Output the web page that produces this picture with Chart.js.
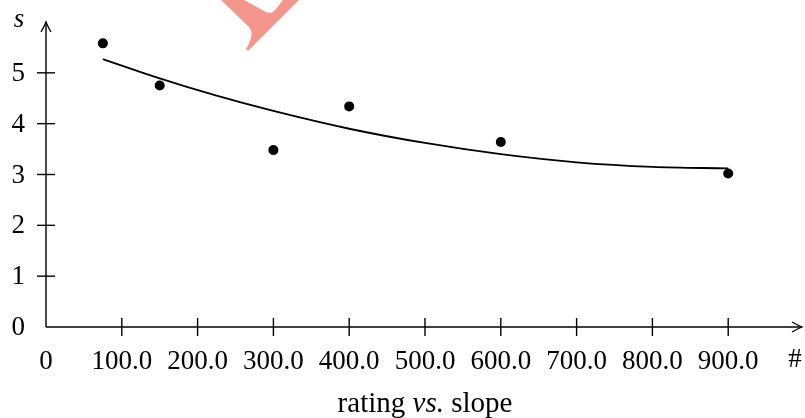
<!DOCTYPE html>
<html>
<head>
<meta charset="utf-8">
<script src="https://cdn.jsdelivr.net/npm/chart.js@4"></script>
<style>
html,body{margin:0;padding:0;background:#fff;}
#wrap{width:805px;height:418px;}
</style>
</head>
<body>
<div id="wrap"><canvas id="c" width="805" height="418"></canvas></div>
<script>
// Observed points
const pointX = [75, 150, 300, 400, 600, 900];
const pointY = [5.58, 4.75, 3.48, 4.34, 3.64, 3.02];
// Fitted trend curve
const curveX = [75, 150, 225, 300, 400, 500, 600, 700, 800, 900];
const curveY = [5.27, 4.89, 4.55, 4.25, 3.90, 3.62, 3.40, 3.24, 3.15, 3.12];
// Axis ticks
const xTickValues = [0, 100, 200, 300, 400, 500, 600, 700, 800, 900];
const xTickLabels = ['0', '100.0', '200.0', '300.0', '400.0', '500.0', '600.0', '700.0', '800.0', '900.0'];
const yTickValues = [0, 1, 2, 3, 4, 5];
const yTickLabels = ['0', '1', '2', '3', '4', '5'];
const xAxisName = '#';
const yAxisName = 's';
const titleParts = [['rating ', false], ['vs.', true], [' slope', false]];

const FONT = '"Liberation Serif", "Times New Roman", serif';

function arrowHead(ctx, tx, ty, dx, dy) {
  const L = 10, W = 5;
  const px = -dy, py = dx;
  ctx.beginPath();
  ctx.moveTo(tx - dx * L + px * W, ty - dy * L + py * W);
  ctx.quadraticCurveTo(tx - dx * 3 + px * 1, ty - dy * 3 + py * 1, tx, ty);
  ctx.quadraticCurveTo(tx - dx * 3 - px * 1, ty - dy * 3 - py * 1, tx - dx * L - px * W, ty - dy * L - py * W);
  ctx.stroke();
}

const axesPlugin = {
  id: 'texAxes',
  beforeDatasetsDraw(chart) {
    const ctx = chart.ctx;
    const xs = chart.scales.x, ys = chart.scales.y;
    const x0 = xs.getPixelForValue(0), y0 = ys.getPixelForValue(0);
    const xEnd = chart.chartArea.right - 2, yEnd = chart.chartArea.top;
    ctx.save();
    // watermark fragment
    ctx.fillStyle = 'rgb(244,150,140)';
    ctx.beginPath();
    ctx.moveTo(221, 0);
    ctx.lineTo(244, 0);
    ctx.lineTo(264, 11);
    ctx.quadraticCurveTo(271, 16, 276, 9);
    ctx.lineTo(283, 0);
    ctx.lineTo(299, 0);
    ctx.lineTo(248, 51);
    ctx.lineTo(246, 49);
    ctx.quadraticCurveTo(256, 33, 248, 26);
    ctx.closePath();
    ctx.fill();

    ctx.strokeStyle = '#000';
    ctx.lineWidth = 1.4;
    ctx.lineCap = 'butt';
    ctx.beginPath();
    ctx.moveTo(x0, y0);
    ctx.lineTo(xEnd, y0);
    ctx.stroke();
    ctx.beginPath();
    ctx.moveTo(x0, y0);
    ctx.lineTo(x0, yEnd);
    ctx.stroke();
    ctx.lineWidth = 1.3;
    arrowHead(ctx, xEnd, y0, 1, 0);
    arrowHead(ctx, x0, yEnd, 0, -1);
    ctx.lineWidth = 1.4;
    xTickValues.forEach(v => {
      if (v === 0) return;
      const p = xs.getPixelForValue(v);
      ctx.beginPath();
      ctx.moveTo(p, y0 - 9);
      ctx.lineTo(p, y0 + 9);
      ctx.stroke();
    });
    yTickValues.forEach(v => {
      if (v === 0) return;
      const p = ys.getPixelForValue(v);
      ctx.beginPath();
      ctx.moveTo(x0 - 9, p);
      ctx.lineTo(x0 + 9, p);
      ctx.stroke();
    });
    ctx.fillStyle = '#000';
    ctx.font = '27px ' + FONT;
    ctx.textAlign = 'center';
    ctx.textBaseline = 'alphabetic';
    xTickValues.forEach((v, i) => {
      ctx.fillText(xTickLabels[i], xs.getPixelForValue(v), y0 + 42);
    });
    ctx.fillText(xAxisName, chart.chartArea.right - 9, y0 + 40);
    ctx.textAlign = 'right';
    ctx.textBaseline = 'middle';
    yTickValues.forEach((v, i) => {
      ctx.fillText(yTickLabels[i], x0 - 21, ys.getPixelForValue(v) + 1);
    });
    ctx.textAlign = 'center';
    ctx.textBaseline = 'alphabetic';
    ctx.font = 'italic 27px ' + FONT;
    ctx.fillText(yAxisName, x0 - 27, yEnd + 5);
    ctx.textAlign = 'left';
    let total = 0;
    titleParts.forEach(([t, it]) => {
      ctx.font = (it ? 'italic ' : '') + '29px ' + FONT;
      total += ctx.measureText(t).width;
    });
    let tx = (chart.chartArea.left + chart.chartArea.right) / 2 - total / 2;
    titleParts.forEach(([t, it]) => {
      ctx.font = (it ? 'italic ' : '') + '29px ' + FONT;
      ctx.fillText(t, tx, 412);
      tx += ctx.measureText(t).width;
    });
    ctx.restore();
  }
};

new Chart(document.getElementById('c'), {
  type: 'scatter',
  data: {
    datasets: [
      {
        label: 'trend',
        data: curveX.map((x, i) => ({x: x, y: curveY[i]})),
        showLine: true,
        borderColor: '#000',
        borderWidth: 1.8,
        pointRadius: 0,
        cubicInterpolationMode: 'monotone',
        fill: false
      },
      {
        label: 'points',
        data: pointX.map((x, i) => ({x: x, y: pointY[i]})),
        showLine: false,
        backgroundColor: '#000',
        borderColor: '#000',
        borderWidth: 0,
        pointRadius: 5
      }
    ]
  },
  options: {
    responsive: false,
    animation: false,
    devicePixelRatio: 1,
    layout: {autoPadding: false, padding: {left: 46, right: 1, top: 22, bottom: 91}},
    plugins: {legend: {display: false}, tooltip: {enabled: false}, title: {display: false}},
    scales: {
      x: {type: 'linear', min: 0, max: 1000, display: false},
      y: {type: 'linear', min: 0, max: 6, display: false}
    }
  },
  plugins: [axesPlugin]
});
</script>
</body>
</html>
